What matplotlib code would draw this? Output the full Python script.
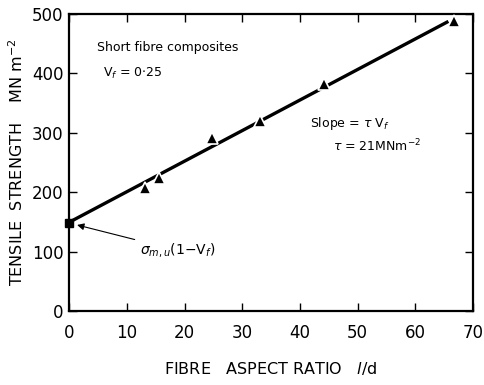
import matplotlib
matplotlib.use("Agg")
import matplotlib.pyplot as plt

# Data
aspect_ratio = [13.2, 15.5, 24.8, 33.1, 44.2, 66.8]
strength = [207, 224, 291, 320, 382, 488]
matrix_x = [0]
matrix_y = [149]
fit_x = [0.5, 65.5]
fit_y = [152, 486]

x_ticks = [0, 10, 20, 30, 40, 50, 60, 70]
y_ticks = [0, 100, 200, 300, 400, 500]

plt.rcParams["font.family"] = ["DejaVu Sans"]

fig = plt.figure(figsize=(4.84, 3.85), dpi=100)
ax = fig.add_axes([0.143, 0.192, 0.834, 0.772])

ax.plot(fit_x, fit_y, color="black", linewidth=2.4, zorder=2)
ax.plot(aspect_ratio, strength, linestyle="none", marker="^", markersize=8,
        color="black", markeredgecolor="white", markeredgewidth=1.2, zorder=3)
ax.plot(matrix_x, matrix_y, linestyle="none", marker="s", markersize=6,
        color="black", zorder=3, clip_on=False)

ax.set_xlim(0, 70)
ax.set_ylim(0, 500)
ax.set_xticks(x_ticks)
ax.set_yticks(y_ticks)
ax.tick_params(direction="in", length=6, width=1, top=True, right=True,
               labelsize=12, pad=9)
ax.tick_params(axis="y", pad=4)
for spine in ax.spines.values():
    spine.set_linewidth(1.6)

ax.set_xlabel(r"FIBRE   ASPECT RATIO   $l$/d", fontsize=11.5, labelpad=13)
ax.set_ylabel(r"TENSILE  STRENGTH    MN m$^{-2}$", fontsize=11.5, labelpad=4)

ax.text(4.8, 443, "Short fibre composites", fontsize=9, va="center")
ax.text(5.9, 399, r"V$_f$ = 0$\cdot$25", fontsize=9, va="center")
ax.text(41.8, 316, r"Slope = $\tau$ V$_f$", fontsize=9, va="center")
ax.text(45.7, 277, r"$\tau$ = 21MNm$^{-2}$", fontsize=9, va="center")

ax.annotate(r"$\sigma_{m,u}$(1$-$V$_f$)", xy=(0.9, 146), xytext=(12.3, 102),
            fontsize=10, va="center",
            arrowprops=dict(arrowstyle="-|>", color="black", lw=0.8))

fig.savefig("out.png", dpi=100)
